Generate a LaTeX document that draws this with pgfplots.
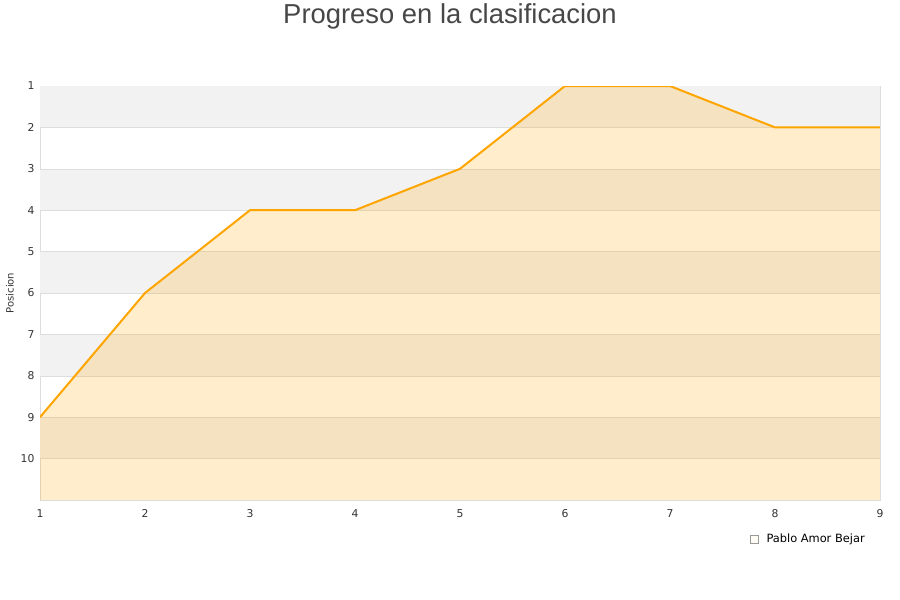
\documentclass[border=0pt]{standalone}
\usepackage{pgfplots}
\pgfplotsset{compat=1.18}
\usepackage{fontspec}
\setmainfont{DejaVu Sans}
\newfontfamily\titlefont{Liberation Sans}
\definecolor{lineor}{HTML}{FFA500}
\definecolor{band}{HTML}{F2F2F2}
\definecolor{gridc}{HTML}{DDDDDD}
\definecolor{txt}{HTML}{333333}
\definecolor{legfill}{HTML}{FFEDCC}
\begin{document}
\begin{tikzpicture}
\useasboundingbox (0pt,0pt) rectangle (900pt,600pt);
\node[font=\titlefont\fontsize{27.4}{32}\selectfont, text=txt!90, anchor=center] at (450pt,584pt) {Progreso en la clasificacion};
\begin{axis}[at={(40pt,100pt)}, anchor=south west, scale only axis,
  width=840pt, height=414pt,
  xmin=1, xmax=9, ymin=1, ymax=11, y dir=reverse,
  xtick={1,...,9}, ytick={1,...,10},
  tick style={draw=none},
  axis line style={draw=gridc},
  ticklabel style={font=\fontsize{10.8}{12}\selectfont, text=txt},
  xticklabel style={yshift=-6pt},
  yticklabel style={xshift=-2pt},
  /pgf/number format/assume math mode=true,
  ylabel={Posicion},
  every axis y label/.style={at={(axis description cs:-0.0357,0.5)}, rotate=90, anchor=center, font=\fontsize{10}{12}\selectfont, text=txt},
  legend style={at={(axis description cs:0.988,-0.094)}, anchor=east, draw=none, fill=none, font=\fontsize{11.4}{13}\selectfont, text=black, column sep=6pt, nodes={inner xsep=2pt}},
  legend image code/.code={\draw[fill=legfill, draw=gray!80] (0pt,-4pt) rectangle (8pt,4pt);},
]
\fill[band] (axis cs:1,1) rectangle (axis cs:9,2);
\fill[band] (axis cs:1,3) rectangle (axis cs:9,4);
\fill[band] (axis cs:1,5) rectangle (axis cs:9,6);
\fill[band] (axis cs:1,7) rectangle (axis cs:9,8);
\fill[band] (axis cs:1,9) rectangle (axis cs:9,10);
\draw[gridc, line width=0.6pt] (axis cs:1,2) -- (axis cs:9,2);
\draw[gridc, line width=0.6pt] (axis cs:1,3) -- (axis cs:9,3);
\draw[gridc, line width=0.6pt] (axis cs:1,4) -- (axis cs:9,4);
\draw[gridc, line width=0.6pt] (axis cs:1,5) -- (axis cs:9,5);
\draw[gridc, line width=0.6pt] (axis cs:1,6) -- (axis cs:9,6);
\draw[gridc, line width=0.6pt] (axis cs:1,7) -- (axis cs:9,7);
\draw[gridc, line width=0.6pt] (axis cs:1,8) -- (axis cs:9,8);
\draw[gridc, line width=0.6pt] (axis cs:1,9) -- (axis cs:9,9);
\draw[gridc, line width=0.6pt] (axis cs:1,10) -- (axis cs:9,10);
\addplot[draw=none, fill=lineor, fill opacity=0.2] coordinates {(1,9) (2,6) (3,4) (4,4) (5,3) (6,1) (7,1) (8,2) (9,2) (9,11) (1,11)};
\addlegendentry{Pablo Amor Bejar}
\addplot[lineor, line width=2pt, forget plot] coordinates {(1,9) (2,6) (3,4) (4,4) (5,3) (6,1) (7,1) (8,2) (9,2)};
\end{axis}
\end{tikzpicture}
\end{document}
